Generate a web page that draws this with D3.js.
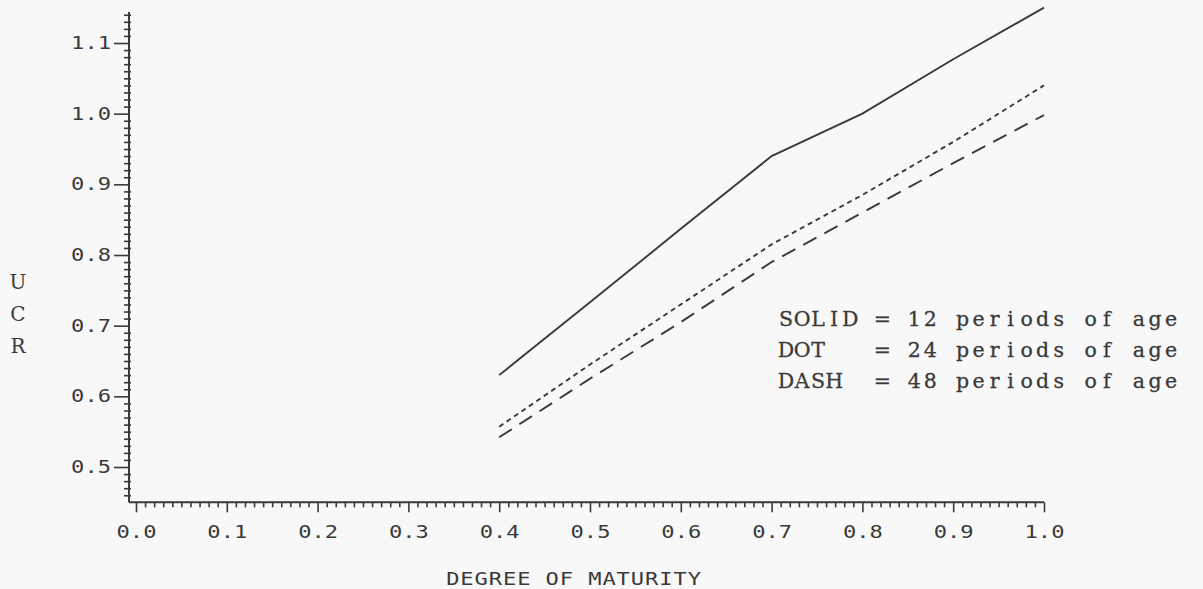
<!DOCTYPE html>
<html>
<head>
<meta charset="utf-8">
<script src="https://cdn.jsdelivr.net/npm/d3@7/dist/d3.min.js"></script>
<style>
  html, body { margin: 0; padding: 0; background: #f8f8f8; }
  svg { display: block; }
</style>
</head>
<body>
<svg id="chart" width="1203" height="589"></svg>
<script>
// Degree of maturity at which each curve is sampled
const maturity = [0.4, 0.5, 0.6, 0.7, 0.8, 0.9, 1.0];
// UCR for the three ages
const solid12 = [0.630, 0.733, 0.837, 0.940, 1.000, 1.077, 1.150];
const dot24   = [0.557, 0.645, 0.730, 0.815, 0.885, 0.960, 1.040];
const dash48  = [0.542, 0.625, 0.705, 0.790, 0.860, 0.930, 0.998];

const xTickValues = [0, 0.1, 0.2, 0.3, 0.4, 0.5, 0.6, 0.7, 0.8, 0.9, 1.0];
const xTickLabels = ["0.0", "0.1", "0.2", "0.3", "0.4", "0.5", "0.6", "0.7", "0.8", "0.9", "1.0"];
const yTickValues = [0.5, 0.6, 0.7, 0.8, 0.9, 1.0, 1.1];
const yTickLabels = ["0.5", "0.6", "0.7", "0.8", "0.9", "1.0", "1.1"];
const yAxisLetters = ["U", "C", "R"];
const legendRows = [
  "SOLID = 12 periods of age",
  "DOT   = 24 periods of age",
  "DASH  = 48 periods of age"
];
const xTitle = "DEGREE OF MATURITY";

const ink = "#3a3a3a";
const plotFont = "'DejaVu Sans Mono', monospace";
const typeFont = "'DejaVu Serif', serif";
const stretch = 1.3;           // plotter lettering is wider than the font
const svg = d3.select("#chart");

const x = d3.scaleLinear().domain([0, 1]).range([136, 1044]);
const y = d3.scaleLinear().domain([0.5, 1.1]).range([467, 43]);
const yMin = 0.45, yMax = 1.144;
const x0 = 129; // where the y axis stands

// minor tick positions every 0.01
const xMinor = d3.range(1, 100).map(i => i / 100).filter(v => Math.round(v * 100) % 10 !== 0);
const yMinor = d3.range(46, 115).map(i => i / 100).filter(v => Math.round(v * 100) % 10 !== 0);

// ---- x axis ----
const gx = svg.append("g").attr("transform", `translate(0,${y(yMin)})`);
gx.append("line").attr("x1", x0).attr("x2", x(1)).attr("y1", 0).attr("y2", 0)
  .attr("stroke", ink).attr("stroke-width", 2);
gx.append("g").call(d3.axisBottom(x).tickValues(xMinor).tickSize(5).tickFormat(""))
  .call(g => g.select(".domain").remove());
gx.append("g").call(d3.axisBottom(x).tickValues(xTickValues).tickSize(10).tickPadding(14)
    .tickFormat((d, i) => xTickLabels[i]))
  .call(g => g.select(".domain").remove());
gx.selectAll(".tick line").attr("stroke", ink).attr("stroke-width", 1.6);
gx.selectAll(".tick text")
  .attr("fill", ink).attr("font-family", plotFont).attr("font-size", 17)
  .attr("transform", `scale(${stretch},1)`);

// ---- y axis ----
const gy = svg.append("g").attr("transform", `translate(${x0},0)`);
gy.append("line").attr("x1", 0).attr("x2", 0).attr("y1", y(yMin)).attr("y2", y(yMax))
  .attr("stroke", ink).attr("stroke-width", 2);
gy.append("g").attr("transform", "translate(2,0)")
  .call(d3.axisLeft(y).tickValues(yMinor).tickSize(7).tickFormat(""))
  .call(g => g.select(".domain").remove());
gy.append("g").call(d3.axisLeft(y).tickValues(yTickValues).tickSize(15).tickPadding(3)
    .tickFormat((d, i) => yTickLabels[i]))
  .call(g => g.select(".domain").remove());
gy.selectAll(".tick line").attr("stroke", ink).attr("stroke-width", 1.6);
gy.selectAll(".tick text")
  .attr("fill", ink).attr("font-family", plotFont).attr("font-size", 17)
  .attr("x", -18 / stretch)
  .attr("transform", `scale(${stretch},1)`);

// ---- curves ----
const line = d3.line().x(d => x(d[0])).y(d => y(d[1]));
const series = [
  { values: solid12, dash: null },
  { values: dot24,   dash: "5,4" },
  { values: dash48,  dash: "15,9" }
];
series.forEach(s => {
  svg.append("path")
    .datum(maturity.map((m, i) => [m, s.values[i]]))
    .attr("d", line)
    .attr("fill", "none")
    .attr("stroke", ink)
    .attr("stroke-width", 1.9)
    .attr("stroke-dasharray", s.dash);
});

// ---- axis titles ----
svg.append("g").selectAll("text").data(yAxisLetters).join("text")
  .attr("x", 18).attr("y", (d, i) => 289 + i * 32)
  .attr("text-anchor", "middle")
  .attr("font-family", typeFont)
  .attr("font-size", 20)
  .attr("fill", ink)
  .text(d => d);

const titleCx = 574;
svg.append("text")
  .attr("x", titleCx / stretch).attr("y", 585)
  .attr("transform", `scale(${stretch},1)`)
  .attr("text-anchor", "middle")
  .attr("font-family", plotFont)
  .attr("font-size", 17)
  .attr("letter-spacing", 0.7)
  .attr("fill", ink)
  .text(xTitle);

// ---- legend: typewriter rows on a fixed character pitch ----
const pitch = 16.04, legendLeft = 778;
svg.append("g").selectAll("text").data(legendRows).join("text")
  .attr("x", d => Array.from(d).map((c, i) => (legendLeft + pitch * (i + 0.5)).toFixed(2)).join(" "))
  .attr("y", (d, i) => 326 + i * 31)
  .attr("text-anchor", "middle")
  .attr("font-family", typeFont)
  .attr("font-size", 20.5)
  .attr("fill", ink)
  .attr("stroke", ink).attr("stroke-width", 0.3)
  .style("white-space", "pre")
  .text(d => d);
</script>
</body>
</html>
